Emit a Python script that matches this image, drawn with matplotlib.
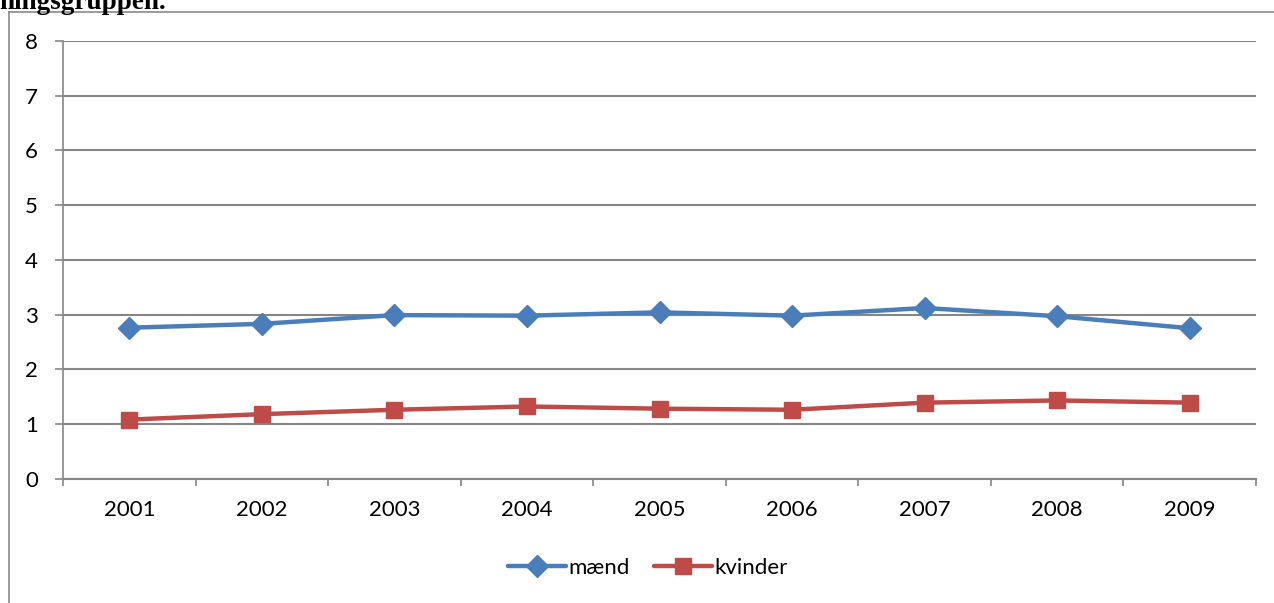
import numpy as np
import matplotlib
matplotlib.use("Agg")
import matplotlib.pyplot as plt
from matplotlib.lines import Line2D

# data
years = ['2001', '2002', '2003', '2004', '2005', '2006', '2007', '2008', '2009']
maend = [2.76, 2.83, 2.99, 2.98, 3.04, 2.98, 3.12, 2.97, 2.75]
kvinder = [1.08, 1.18, 1.26, 1.32, 1.28, 1.26, 1.39, 1.43, 1.39]
yticks = [0, 1, 2, 3, 4, 5, 6, 7, 8]

blue = '#4A7EBB'
red = '#BE4B48'
grid_col = '#868686'

plt.rcParams['font.family'] = ['Lato', 'DejaVu Sans']

W, H = 1274, 603
fig = plt.figure(figsize=(W / 100, H / 100), dpi=100)
fig.patch.set_facecolor('white')

# outer frame of the embedded chart (cut off at right and bottom)
fig.add_artist(Line2D([9 / W, 9 / W], [0, 1 - 12 / H], transform=fig.transFigure,
                      color='#8a8a8a', lw=1.2))
fig.add_artist(Line2D([9 / W, 1], [1 - 12 / H, 1 - 12 / H], transform=fig.transFigure,
                      color='#8a8a8a', lw=1.2))

# heading from the document, clipped at the top
fig.text(-1 / W, 1 - 9 / H, 'ningsgruppen.', family='Liberation Serif',
         weight='bold', fontsize=19.5, va='baseline', ha='left')

ax = fig.add_axes([63 / W, 1 - 478.7 / H, (1256 - 63) / W, (478.7 - 41) / H])
x = np.arange(len(years))

ax.plot(x, maend, color=blue, lw=3.2, marker='D', ms=11.5, label='mænd', zorder=3,
        solid_capstyle='round')
ax.plot(x, kvinder, color=red, lw=3.2, marker='s', ms=12, label='kvinder', zorder=3,
        solid_capstyle='round')

ax.set_xlim(-0.5, len(years) - 0.5)
ax.set_ylim(0, 8)
ax.set_yticks(yticks)
ax.set_yticklabels([str(v) for v in yticks])
ax.yaxis.grid(True, color=grid_col, lw=1.5)
ax.set_axisbelow(True)

ax.set_xticks(x)
ax.set_xticklabels(years)
ax.set_xticks(np.arange(-0.5, len(years)), minor=True)
ax.tick_params(axis='x', which='major', length=0, pad=15, labelsize=16)
ax.tick_params(axis='x', which='minor', length=5, width=1.2, color=grid_col)
ax.tick_params(axis='y', length=6, width=1.2, color=grid_col, pad=12, labelsize=16)

for s in ['top', 'right']:
    ax.spines[s].set_visible(False)
ax.spines['left'].set_color(grid_col)
ax.spines['left'].set_linewidth(1.2)
ax.spines['bottom'].set_color(grid_col)
ax.spines['bottom'].set_linewidth(1.5)

fig.legend(loc='center', bbox_to_anchor=(648 / W, 1 - 568 / H), ncol=2, frameon=False,
           fontsize=16, handlelength=2.6, columnspacing=1.1, handletextpad=0.1)

fig.savefig('out.png', dpi=100)
